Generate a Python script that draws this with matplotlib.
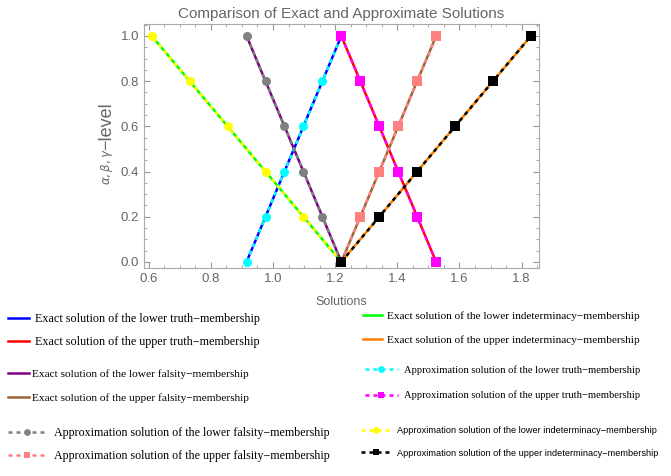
import matplotlib
matplotlib.use('Agg')
import matplotlib.pyplot as plt
from matplotlib.ticker import MultipleLocator

plt.rcParams['font.family'] = ['Liberation Sans', 'DejaVu Sans']

# alpha, beta, gamma levels
levels = [0.0, 0.2, 0.4, 0.6, 0.8, 1.0]

# solution values at each level
lower_truth = [0.915, 0.976, 1.037, 1.098, 1.159, 1.220]
upper_truth = [1.525, 1.464, 1.403, 1.342, 1.281, 1.220]
lower_falsity = [1.220, 1.159, 1.098, 1.037, 0.976, 0.915]
upper_falsity = [1.220, 1.281, 1.342, 1.403, 1.464, 1.525]
lower_indet = [1.220, 1.098, 0.976, 0.854, 0.732, 0.610]
upper_indet = [1.220, 1.342, 1.464, 1.586, 1.708, 1.830]

x_ticks = [0.6, 0.8, 1.0, 1.2, 1.4, 1.6, 1.8]
y_ticks = [0.0, 0.2, 0.4, 0.6, 0.8, 1.0]

W, H = 671, 476
fig = plt.figure(figsize=(W / 100, H / 100), dpi=100)
ax = fig.add_axes([144 / W, 1 - 268 / H, (539 - 144) / W, (268 - 24) / H])

grey = '#666666'
lw = 1.8
dash = (0, (1.6, 1.6))

# exact solutions (solid)
exact = [
    (lower_truth, 'blue', 'Exact solution of the lower truth\u2212membership'),
    (upper_truth, 'red', 'Exact solution of the upper truth\u2212membership'),
    (lower_falsity, '#800080', 'Exact solution of the lower falsity\u2212membership'),
    (upper_falsity, '#996633', 'Exact solution of the upper falsity\u2212membership'),
    (lower_indet, '#00ff00', 'Exact solution of the lower indeterminacy\u2212membership'),
    (upper_indet, '#ff8000', 'Exact solution of the upper indeterminacy\u2212membership'),
]
exact_h = []
for xs, c, lab in exact:
    h, = ax.plot(xs, levels, color=c, lw=lw, label=lab)
    exact_h.append(h)

# approximate solutions (dashed with markers)
approx = [
    (lower_truth, 'cyan', 'o', 'Approximation solution of the lower truth\u2212membership'),
    (upper_truth, 'magenta', 's', 'Approximation solution of the upper truth\u2212membership'),
    (lower_falsity, 'gray', 'o', 'Approximation solution of the lower falsity\u2212membership'),
    (upper_falsity, '#ff8080', 's', 'Approximation solution of the upper falsity\u2212membership'),
    (lower_indet, 'yellow', 'o', 'Approximation solution of the lower indeterminacy\u2212membership'),
    (upper_indet, 'black', 's', 'Approximation solution of the upper indeterminacy\u2212membership'),
]
approx_h = []
for xs, c, m, lab in approx:
    h, = ax.plot(xs, levels, color=c, lw=lw, linestyle=dash, marker=m,
                 markersize=6.5, markeredgewidth=0, label=lab)
    approx_h.append(h)

ax.set_xlim(0.585, 1.856)
ax.set_ylim(-0.027, 1.053)
ax.set_xticks(x_ticks)
ax.set_yticks(y_ticks)
ax.xaxis.set_minor_locator(MultipleLocator(0.05))
ax.yaxis.set_minor_locator(MultipleLocator(0.05))
ax.tick_params(which='both', direction='in', top=True, right=True,
               color='#999999', labelcolor=grey, labelsize=9.5)
ax.tick_params(which='major', length=4)
ax.tick_params(which='minor', length=2)
for s in ax.spines.values():
    s.set_color('#aaaaaa')

ax.set_title('Comparison of Exact and Approximate Solutions', color=grey,
             fontsize=11, pad=4)
ax.set_xlabel('Solutions', color=grey, fontsize=9, labelpad=8)
ax.text(-0.094, 0.342, r'$\alpha,\beta,\gamma$', rotation=90, ha='center',
        va='bottom', color=grey, fontsize=8.5, transform=ax.transAxes)
ax.text(-0.094, 0.484, '\u2212level', rotation=90, ha='center', va='bottom',
        color=grey, fontsize=13, transform=ax.transAxes)


def add_legend(handles, x, y, size, hlen, pad, spacing, family='Liberation Serif'):
    fig.legend(handles=handles, loc='upper left',
               bbox_to_anchor=(x / W, 1 - y / H), frameon=False,
               borderpad=0, borderaxespad=0, handlelength=hlen,
               handletextpad=pad, labelspacing=spacing, markerscale=0.75,
               prop={'family': family, 'size': size})


# left column
add_legend(exact_h[0:2], 8, 313, 8.7, 1.74, 0.5, 0.93)
add_legend(exact_h[2:4], 8, 369, 8.2, 1.84, 0.25, 1.23)
add_legend(approx_h[2:4], 8, 427, 8.65, 3.1, 0.75, 0.94)
# right column
add_legend(exact_h[4:6], 363, 311, 8.15, 1.68, 0.44, 1.25)
add_legend(approx_h[0:2], 365, 365, 7.6, 3.1, 0.57, 1.51)
add_legend(approx_h[4:6], 361, 426, 6.6, 3.3, 0.6, 1.48,
           family='Liberation Sans')

fig.savefig('out.png', dpi=100)
